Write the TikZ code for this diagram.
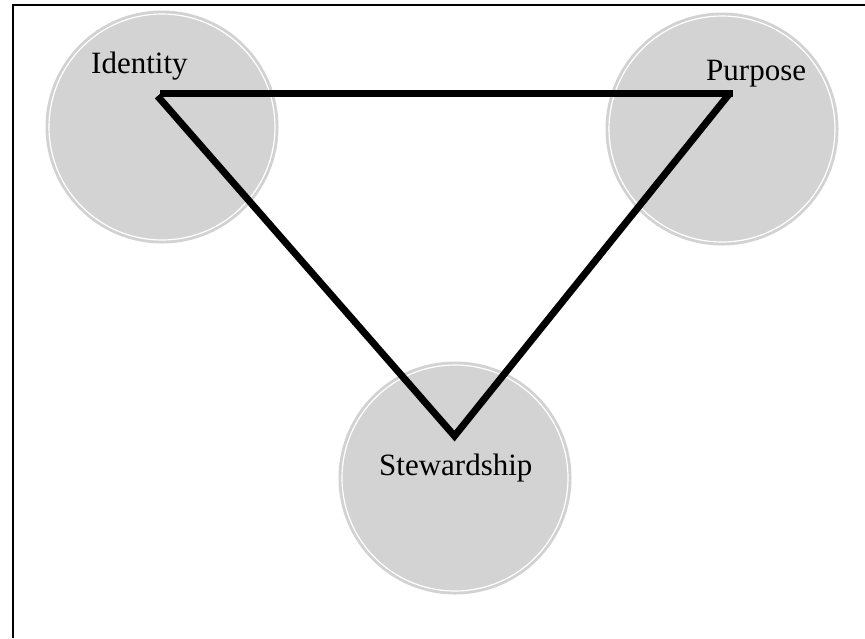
\documentclass[tikz,border=0pt]{standalone}
\usepackage{fontspec}
\setmainfont{Liberation Serif}
\definecolor{discfill}{RGB}{211,211,211}
\definecolor{discedge}{RGB}{210,210,210}
\begin{document}
\begin{tikzpicture}[x=1pt,y=-1pt,
  disc/.style={circle,fill=discfill,draw=discedge,line width=2pt,minimum size=231pt,inner sep=0pt},
  ring/.style={draw=white,line width=1.2pt},
  lbl/.style={font=\fontsize{31}{37}\selectfont,anchor=base west,inner sep=0pt},
  edge/.style={line width=7pt,black},
  frame/.style={line width=2pt,black}]
\useasboundingbox (0,0) rectangle (865,638);
\fill[white] (0,0) rectangle (865,638);
\draw[frame] (12.5,638) -- (12.5,5) -- (865,5);
% discs
\node[disc] (id) at (162,127) {};
\node[disc] (pu) at (722,129) {};
\node[disc] (st) at (455,478) {};
\foreach \n in {id,pu,st}{\draw[ring] (\n.center) circle (113pt);}
% labels
\node[lbl] (idl) at (91,73) {Identity};
\node[lbl] (pul) at (706,80.5) {Purpose};
\node[lbl] (stl) at (379,475) {Stewardship};
% triangle vertices
\coordinate (vid) at (160,93);
\coordinate (vidd) at (157.5,96);
\coordinate (vpu) at (733,93);
\coordinate (vpud) at (730,93);
\coordinate (vst) at (454.5,436);
\draw[edge] (vid) -- (vpu);
\draw[edge,miter limit=10] (vidd) -- (vst) -- (vpud);
\end{tikzpicture}
\end{document}
